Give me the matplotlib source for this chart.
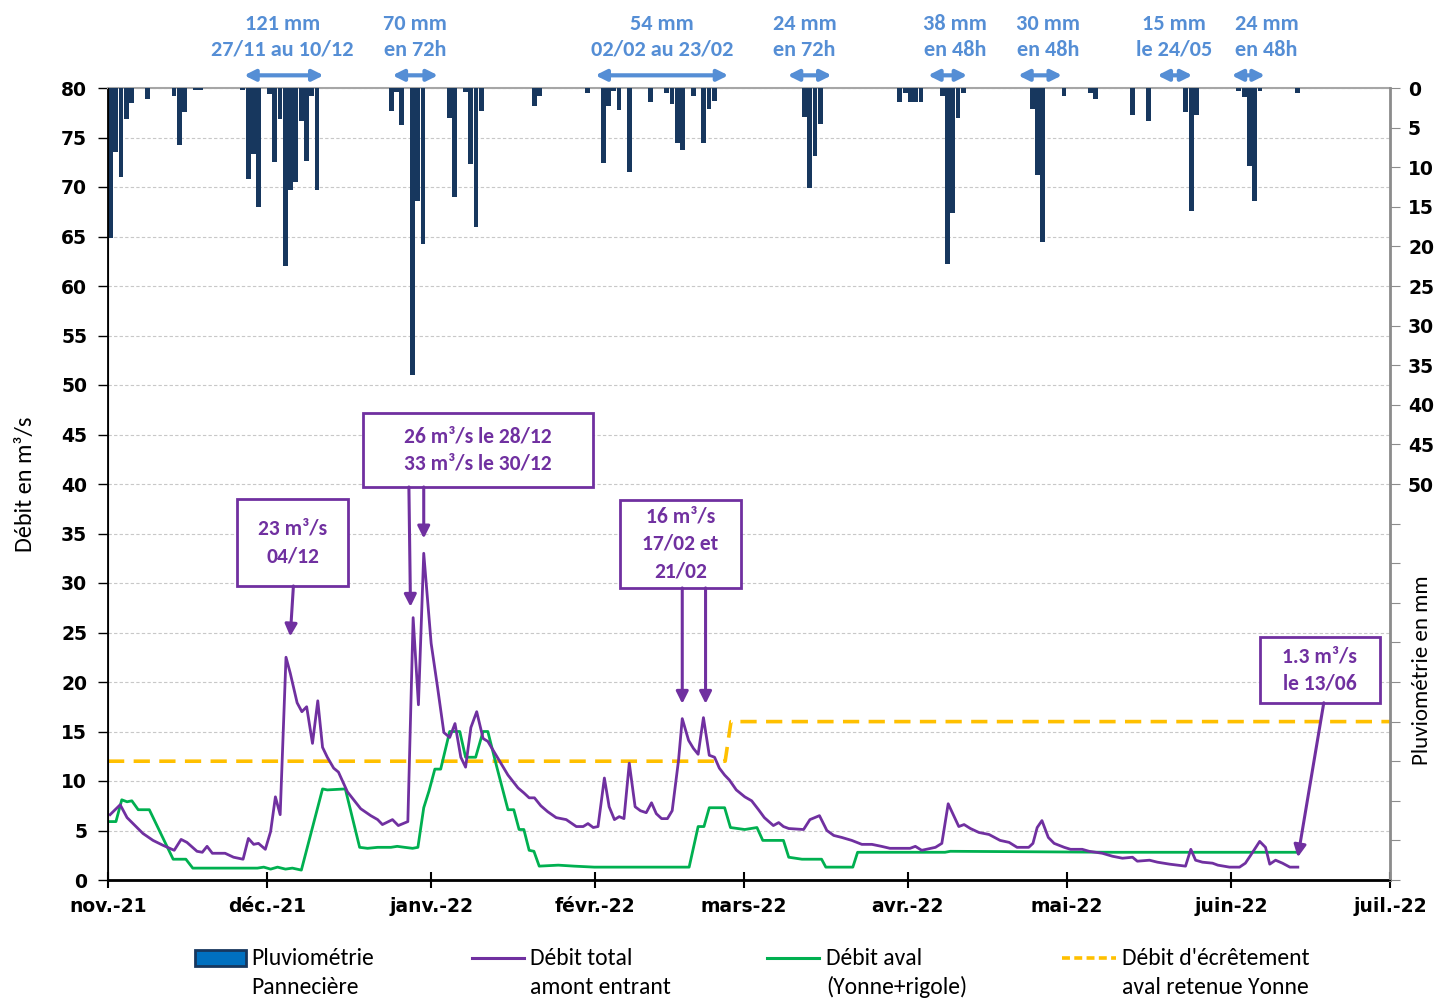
import matplotlib
matplotlib.use('Agg')
import matplotlib.pyplot as plt
import matplotlib.transforms as mtransforms
from matplotlib.lines import Line2D
from matplotlib.patches import Rectangle

# ---- data (x = days since 1 Nov 2021) ----
month_days = [0, 30, 61, 92, 120, 151, 181, 212, 242]
month_labels = ['nov.-21', 'déc.-21', 'janv.-22', 'févr.-22', 'mars-22',
                'avr.-22', 'mai-22', 'juin-22', 'juil.-22']

rain_day = [0, 1, 2, 3, 4, 7, 12, 13, 14, 16, 17, 25, 26, 27, 28, 30, 31, 32, 33,
            34, 35, 36, 37, 38, 39, 53, 54, 55, 57, 58, 59, 64, 65, 67, 68, 69, 70,
            80, 81, 90, 93, 94, 95, 96, 98, 102, 105, 106, 107, 108, 110, 112, 113,
            114, 131, 132, 133, 134, 149, 150, 151, 152, 153, 157, 158, 159, 160,
            161, 174, 175, 176, 180, 185, 186, 193, 196, 203, 204, 205, 213, 214,
            215, 216, 217, 224]
rain_mm = [18.9, 8.1, 11.2, 3.9, 1.9, 1.4, 1.0, 7.2, 3.0, 0.3, 0.3, 0.3, 11.5, 8.3,
           15.0, 0.7, 9.3, 3.9, 22.5, 12.9, 11.9, 4.2, 9.2, 1.0, 12.9, 2.9, 0.5, 4.7,
           36.2, 14.3, 19.7, 3.8, 13.7, 0.5, 9.6, 17.5, 2.9, 2.3, 1.0, 0.6, 9.5, 2.3,
           0.4, 2.8, 10.6, 1.8, 0.6, 2.0, 7.0, 7.8, 1.0, 7.0, 2.7, 1.6, 3.6, 12.6,
           8.6, 4.5, 1.8, 0.6, 1.8, 1.8, 1.8, 1.0, 22.2, 15.8, 3.8, 0.6, 2.7, 11.0,
           19.4, 1.0, 0.6, 1.4, 3.4, 4.2, 3.0, 15.5, 3.4, 0.4, 1.1, 9.8, 14.3, 0.4,
           0.6]

total_day = [0.4, 2.3, 3.6, 6.6, 8.5, 10.4, 12.5, 13.8, 14.9, 16.8, 17.8, 18.7, 19.7,
             22.1, 23.7, 25.5, 26.5, 27.5, 28.4, 29.7, 30.7, 31.6, 32.5, 33.6, 34.4,
             35.7, 36.6, 37.5, 38.6, 39.6, 40.5, 41.4, 42.6, 43.5, 45.2, 47.7, 49.6,
             50.9, 51.8, 53.7, 54.8, 56.6, 57.6, 58.6, 59.6, 61.0, 62.2, 63.4, 64.5,
             65.5, 66.6, 67.5, 68.5, 69.6, 70.8, 71.7, 73.6, 75.5, 77.4, 78.5, 79.5,
             80.5, 81.7, 83.0, 84.6, 86.5, 88.4, 89.7, 90.6, 91.6, 92.5, 93.7, 94.6,
             95.6, 96.5, 97.4, 98.4, 99.5, 100.5, 101.6, 102.6, 103.5, 104.5, 105.6,
             106.5, 107.7, 108.4, 109.6, 110.5, 111.4, 112.4, 113.5, 114.5, 115.4,
             116.4, 117.3, 118.6, 120.2, 121.5, 122.8, 123.9, 125.6, 126.6, 127.5,
             128.5, 131.3, 132.5, 134.3, 135.7, 137.0, 138.5, 140.4, 142.3, 144.2,
             146.0, 147.6, 151.4, 152.4, 153.6, 156.2, 157.4, 158.6, 160.6, 161.6,
             162.8, 164.4, 166.3, 168.4, 170.1, 171.6, 173.8, 174.6, 175.4, 176.3,
             177.5, 178.6, 180.5, 181.7, 183.9, 185.2, 187.7, 189.6, 191.5, 193.4,
             194.3, 196.6, 198.1, 200.4, 203.4, 204.4, 205.3, 206.6, 208.5, 209.5,
             211.7, 213.6, 214.7, 215.7, 217.4, 218.5, 219.3, 220.4, 221.7, 223.1,
             224.6]
total_q = [6.6, 7.6, 6.3, 4.7, 4.0, 3.5, 3.0, 4.1, 3.8, 2.9, 2.8, 3.4, 2.7,
           2.7, 2.3, 2.1, 4.2, 3.6, 3.7, 3.1, 4.9, 8.4, 6.6, 22.5, 20.9,
           17.9, 17.0, 17.5, 13.8, 18.1, 13.4, 12.4, 11.3, 10.9, 8.9, 7.2, 6.5,
           6.1, 5.6, 6.1, 5.5, 5.9, 26.5, 17.7, 33.0, 23.9, 19.5, 14.9, 14.4,
           15.8, 12.4, 11.4, 15.4, 17.0, 14.3, 14.0, 12.3, 10.6, 9.3, 8.8, 8.3,
           8.3, 7.5, 6.9, 6.3, 6.1, 5.4, 5.4, 5.7, 5.3, 5.4, 10.3, 7.4,
           6.1, 6.4, 6.2, 11.8, 7.4, 7.0, 6.8, 7.8, 6.7, 6.2, 6.2,
           7.0, 12.1, 16.3, 14.1, 13.3, 12.7, 16.4, 12.6, 12.4, 11.3,
           10.6, 10.1, 9.1, 8.4, 8.0, 7.1, 6.3, 5.5, 5.8, 5.4,
           5.2, 5.1, 6.1, 6.5, 5.0, 4.5, 4.3, 4.0, 3.6, 3.6,
           3.4, 3.2, 3.2, 3.4, 3.0, 3.3, 3.7, 7.7, 5.4, 5.6,
           5.2, 4.8, 4.6, 4.0, 3.8, 3.3, 3.3, 3.7, 5.3, 6.0,
           4.3, 3.7, 3.3, 3.1, 3.1, 2.9, 2.7, 2.4, 2.2, 2.3,
           1.9, 2.0, 1.8, 1.6, 1.4, 3.1, 2.0, 1.8, 1.7, 1.5,
           1.3, 1.3, 1.7, 2.5, 3.9, 3.3, 1.6, 2.0, 1.7, 1.3,
           1.3]

aval_day = [0.4, 1.5, 2.6, 3.6, 4.5, 5.7, 7.8, 12.3, 14.7, 16.0, 28.2, 29.4, 30.7,
            32.0, 33.5, 34.8, 36.5, 40.5, 41.4, 44.8, 47.5, 49.0, 50.9, 53.4, 54.6,
            56.0, 57.5, 58.5, 59.6, 60.6, 61.7, 62.8, 64.5, 66.4, 67.5, 69.4, 70.8,
            71.7, 73.4, 75.5, 76.6, 77.6, 78.5, 79.5, 80.4, 81.4, 85.0, 88.0, 91.8,
            109.7, 111.4, 112.5, 113.5, 116.4, 117.5, 120.2, 122.5, 123.6, 127.5,
            128.5, 131.0, 134.7, 135.5, 140.6, 141.5, 158.0, 159.0, 190.0, 224.6]
aval_q = [5.9, 5.9, 8.1, 7.9, 8.0, 7.1, 7.1, 2.1, 2.1, 1.2, 1.2, 1.3, 1.1,
          1.3, 1.1, 1.2, 1.0, 9.2, 9.1, 9.2, 3.3, 3.2, 3.3, 3.3, 3.4,
          3.3, 3.2, 3.3, 7.3, 9.0, 11.2, 11.2, 15.0, 15.0, 12.4, 12.4, 15.0,
          15.0, 11.4, 7.1, 7.1, 5.1, 5.1, 3.0, 2.9, 1.4, 1.5, 1.4, 1.3,
          1.3, 5.4, 5.4, 7.3, 7.3, 5.3, 5.1, 5.3, 4.0, 4.0,
          2.3, 2.1, 2.1, 1.3, 1.3, 2.8, 2.8, 2.9, 2.8, 2.8]

ecret_day = [0, 116.5, 117.6, 242]
ecret_q = [12, 12, 16, 16]

rain_notes = [
    (32.9, '121 mm\n27/11 au 10/12', 25.7, 40.7),
    (57.9, '70 mm\nen 72h', 53.7, 62.3),
    (104.6, '54 mm\n02/02 au 23/02', 92.0, 117.1),
    (131.5, '24 mm\nen 72h', 128.3, 136.6),
    (159.9, '38 mm\nen 48h', 154.8, 162.2),
    (177.5, '30 mm\nen 48h', 171.8, 180.1),
    (201.3, '15 mm\nle 24/05', 198.1, 204.7),
    (218.7, '24 mm\nen 48h', 212.1, 218.4),
]

PURPLE = '#7030A0'
GREEN = '#00B050'
ORANGE = '#FFC000'
NAVY = '#17375E'
NOTE_BLUE = '#558ED5'
CAL = ['Carlito', 'Lato', 'DejaVu Sans']

fig = plt.figure(figsize=(14.37, 10), dpi=100)
ax = fig.add_axes([108 / 1437, 0.12, (1390 - 108) / 1437, 0.792])
ax2 = ax.twinx()

# flows
ax.set_xlim(0, 242)
ax.set_ylim(0, 80)
ax.plot(ecret_day, ecret_q, color=ORANGE, lw=2.6, dashes=(4.5, 2.6), zorder=3)
ax.plot(aval_day, aval_q, color=GREEN, lw=2.0, zorder=4)
ax.plot(total_day, total_q, color=PURPLE, lw=2.0, zorder=5)

ax.set_yticks(range(0, 81, 5))
ax.yaxis.grid(True, color='#c8c8c8', ls=(0, (3, 2)), lw=0.8)
ax.set_axisbelow(True)
ax.set_xticks(month_days)
ax.set_xticklabels(month_labels)
for lab in ax.get_xticklabels() + ax.get_yticklabels():
    lab.set_fontweight('bold')
    lab.set_fontsize(13.5)
ax.tick_params(axis='x', direction='inout', length=12, width=1.5, pad=6)
ax.tick_params(axis='y', direction='out', length=7, width=1, pad=8)
ax.spines['left'].set_linewidth(1.3)
ax.spines['bottom'].set_linewidth(2)
ax.spines['top'].set_color('#a6a6a6')
ax.spines['top'].set_linewidth(1.5)
ax.set_ylabel('Débit en m³/s', fontsize=17.5, family=CAL, labelpad=18)

# rainfall (inverted right axis)
ax2.bar(rain_day, rain_mm, width=0.92, align='edge', color=NAVY, zorder=2)
ax2.set_ylim(100, 0)
ax2.set_yticks(range(0, 101, 5))
ax2.set_yticklabels([str(v) if v <= 50 else '' for v in range(0, 101, 5)])
for lab in ax2.get_yticklabels():
    lab.set_fontweight('bold')
    lab.set_fontsize(13.5)
ax2.tick_params(axis='y', direction='out', length=7, color='#8c8c8c', pad=6)
ax2.spines['right'].set_color('#8c8c8c')
ax2.spines['right'].set_linewidth(2)
ax2.spines['top'].set_visible(False)
fig.text(0.9895, 0.33, 'Pluviométrie en mm', rotation=90, fontsize=16.5,
         family=CAL, ha='center', va='center')

# rainfall episodes above the chart
trans = mtransforms.blended_transform_factory(ax.transData, ax.transAxes)
for xc, txt, x0, x1 in rain_notes:
    ax.text(xc, 1.0645, txt, transform=trans, ha='center', va='center',
            color=NOTE_BLUE, fontsize=16, fontweight='bold', family=CAL,
            linespacing=1.38)
    ax.annotate('', xy=(x0, 1.016), xytext=(x1, 1.016), xycoords=trans,
                textcoords=trans,
                arrowprops=dict(arrowstyle='<|-|>', color=NOTE_BLUE, lw=3,
                                mutation_scale=16, shrinkA=0, shrinkB=0))

# peak callouts: (box left, box right, bottom, top, text)
callouts = [
    (24.35, 45.3, 29.7, 38.5, '23 m³/s\n04/12'),
    (48.1, 91.5, 39.7, 47.2, '26 m³/s le 28/12\n33 m³/s le 30/12'),
    (96.6, 119.5, 29.5, 38.4, '16 m³/s\n17/02 et\n21/02'),
    (217.4, 240.1, 17.9, 24.5, '1.3 m³/s\nle 13/06'),
]
for x0, x1, y0, y1, txt in callouts:
    ax.add_patch(Rectangle((x0, y0), x1 - x0, y1 - y0, fc='white', ec=PURPLE,
                           lw=2, zorder=9))
    ax.text((x0 + x1) / 2, (y0 + y1) / 2, txt, ha='center', va='center',
            color=PURPLE, fontsize=15.5, fontweight='bold', family=CAL,
            linespacing=1.45, zorder=10)

arr = dict(arrowstyle='-|>', color=PURPLE, lw=2.2, mutation_scale=18,
           shrinkA=0, shrinkB=0)
arrows = [((34.4, 24.6), (35.0, 29.7)),
          ((57.1, 27.6), (56.8, 39.7)),
          ((59.6, 34.5), (59.6, 39.7)),
          ((108.4, 17.8), (108.4, 29.5)),
          ((112.8, 17.8), (112.8, 29.5)),
          ((224.6, 2.3), (229.5, 17.9))]
for tip, tail in arrows:
    ax.annotate('', xy=tip, xytext=tail, arrowprops=arr, zorder=9)

# legend, drawn by hand so each key sits on the first text line
fig.add_artist(Rectangle((195 / 1437, 1 - 966 / 1000), 51 / 1437, 16 / 1000,
                         transform=fig.transFigure, fc='#0070C0', ec=NAVY, lw=2))
fig.add_artist(Line2D([472 / 1437, 524 / 1437], [0.042, 0.042], color=PURPLE,
                      lw=2.2, transform=fig.transFigure))
fig.add_artist(Line2D([767 / 1437, 819 / 1437], [0.042, 0.042], color=GREEN,
                      lw=2.2, transform=fig.transFigure))
fig.add_artist(Line2D([1062 / 1437, 1116 / 1437], [0.042, 0.042], color=ORANGE,
                      lw=2.6, dashes=(2.2, 1.2), transform=fig.transFigure))
labels = ['Pluviométrie\nPannecière', 'Débit total\namont entrant',
          'Débit aval\n(Yonne+rigole)', "Débit d'écrêtement\naval retenue Yonne"]
for xl, lab in zip([251, 530, 826, 1122], labels):
    fig.text(xl / 1437, 0.027, lab, ha='left', va='center', fontsize=17,
             family=CAL, linespacing=1.42)

fig.savefig('out.png', dpi=100)
